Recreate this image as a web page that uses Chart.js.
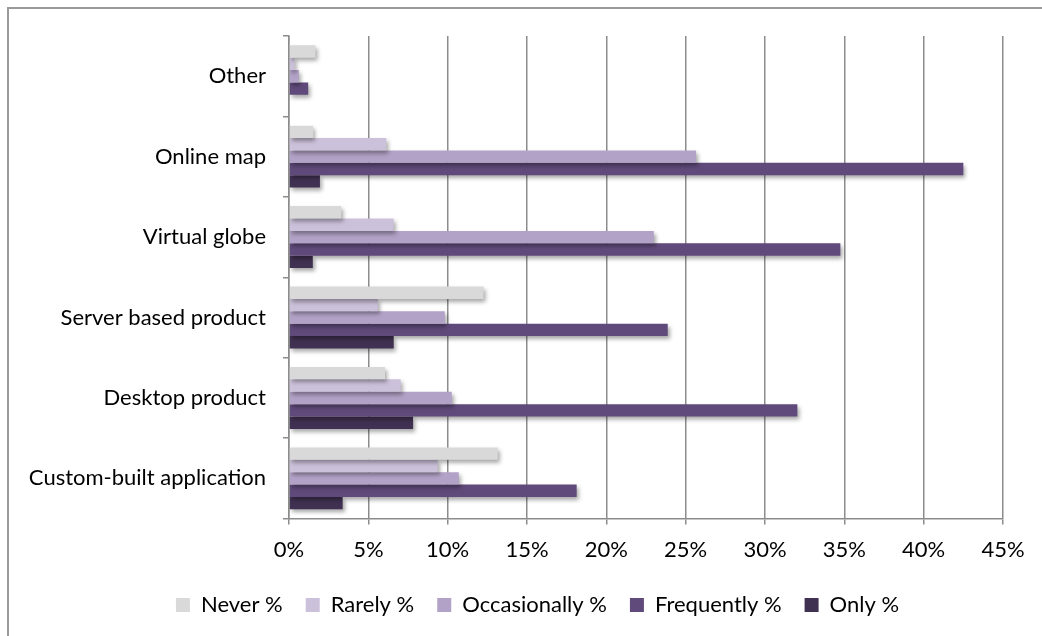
<!DOCTYPE html>
<html>
<head>
<meta charset="utf-8">
<script src="https://cdn.jsdelivr.net/npm/chart.js@4"></script>
<style>
    html, body { margin: 0; padding: 0; background: #fff; }
    #wrap { position: relative; width: 1042px; height: 636px; overflow: hidden; }
    #frame {
        position: absolute; left: 7px; top: 7px; right: -10px; bottom: -10px;
        border-left: 2px solid #9a9a9a; border-top: 2px solid #9a9a9a;
    }
    #usageChart { position: absolute; left: 0; top: 0; }
</style>
</head>
<body>
<div id="wrap">
    <div id="frame"></div>
    <canvas id="usageChart" width="1042" height="636"></canvas>
</div>
<script>
(function() {
    'use strict';

    const categories = ['Other', 'Online map', 'Virtual globe', 'Server based product', 'Desktop product', 'Custom-built application'];

    const never = [1.67, 1.53, 3.29, 12.26, 6.05, 13.16];
    const rarely = [0.35, 6.13, 6.6, 5.6, 7.04, 9.37];
    const occasionally = [0.62, 25.66, 22.99, 9.82, 10.26, 10.7];
    const frequently = [1.21, 42.5, 34.75, 23.87, 32.04, 18.13];
    const only = [0, 1.95, 1.5, 6.6, 7.82, 3.38];

    const xTicks = [0, 5, 10, 15, 20, 25, 30, 35, 40, 45];

    const FONT = 'Lato';
    const AXIS_GREY = '#8c8c8c';
    const PAD_LEFT = 20;
    const PLOT_LEFT = 289;

    // soft drop shadow under every bar
    const barShadow = {
        id: 'barShadow',
        beforeDatasetsDraw: function(chart) {
            const ctx = chart.ctx;
            ctx.save();
            ctx.shadowColor = 'rgba(0, 0, 0, 0.35)';
            ctx.shadowBlur = 4;
            ctx.shadowOffsetX = 2;
            ctx.shadowOffsetY = 3;
        },
        afterDatasetsDraw: function(chart) {
            chart.ctx.restore();
        }
    };

    // legend sits a little right of the canvas centre
    const legendNudge = {
        id: 'legendNudge',
        afterLayout: function(chart) {
            if (!chart.legend) return;
            chart.legend.left += 26;
            chart.legend.right += 26;
        }
    };

    function series(label, data, color) {
        return {
            label: label,
            data: data,
            backgroundColor: color,
            borderWidth: 0,
            barPercentage: 1,
            categoryPercentage: 0.77
        };
    }

    new Chart(document.getElementById('usageChart'), {
        type: 'bar',
        data: {
            labels: categories,
            datasets: [
                series('Never %', never, '#d9d9d9'),
                series('Rarely %', rarely, '#ccc1da'),
                series('Occasionally %', occasionally, '#b3a2c7'),
                series('Frequently %', frequently, '#604a7b'),
                series('Only %', only, '#403152')
            ]
        },
        plugins: [barShadow, legendNudge],
        options: {
            indexAxis: 'y',
            responsive: false,
            animation: false,
            devicePixelRatio: 1,
            layout: {
                padding: { left: PAD_LEFT, right: 39, top: 36, bottom: 10 }
            },
            plugins: {
                legend: {
                    position: 'bottom',
                    labels: {
                        boxWidth: 14,
                        boxHeight: 14,
                        padding: 23,
                        color: '#000',
                        font: { family: FONT, size: 22 }
                    }
                },
                tooltip: { enabled: false }
            },
            scales: {
                x: {
                    min: 0,
                    max: 45,
                    afterBuildTicks: function(scale) {
                        scale.ticks = xTicks.map(function(v) { return { value: v }; });
                    },
                    afterFit: function(scale) {
                        scale.height -= 4;
                    },
                    ticks: {
                        padding: 12,
                        color: '#000',
                        font: { family: FONT, size: 22 },
                        callback: function(v) { return v + '%'; }
                    },
                    grid: {
                        color: AXIS_GREY,
                        lineWidth: 1.5,
                        tickLength: 6
                    },
                    border: { color: AXIS_GREY, width: 1.5 }
                },
                y: {
                    afterFit: function(scale) {
                        scale.width = PLOT_LEFT - PAD_LEFT;
                    },
                    ticks: {
                        padding: 17,
                        color: '#000',
                        font: { family: FONT, size: 22 }
                    },
                    grid: {
                        drawOnChartArea: false,
                        color: AXIS_GREY,
                        lineWidth: 1.5,
                        tickLength: 6
                    },
                    border: { color: AXIS_GREY, width: 1.5 }
                }
            }
        }
    });
})();
</script>
</body>
</html>
